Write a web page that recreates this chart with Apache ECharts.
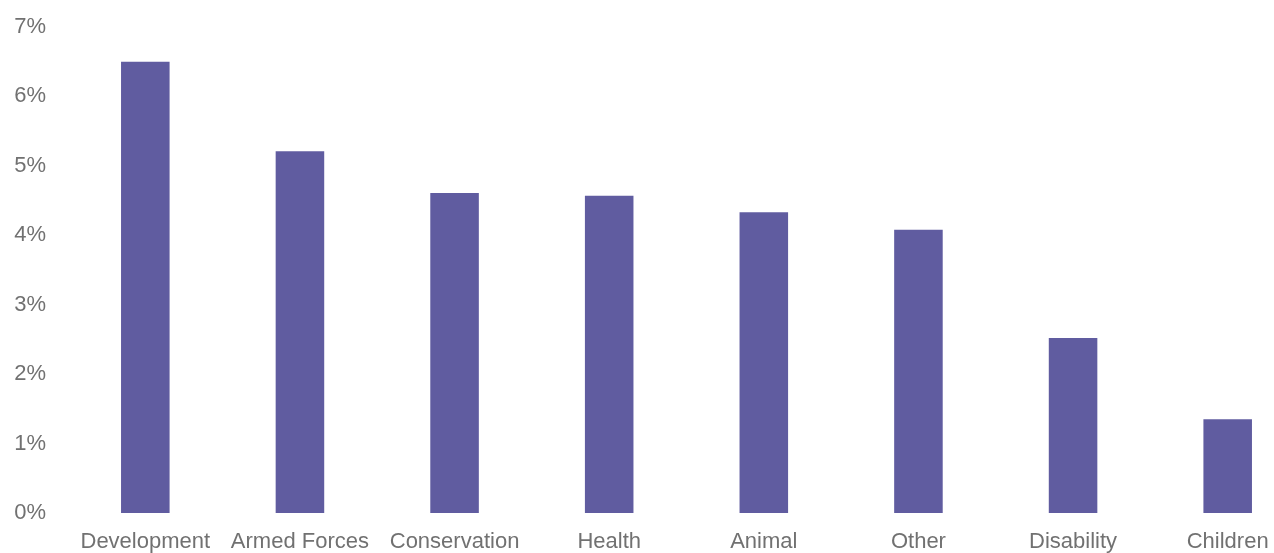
<!DOCTYPE html>
<html>
<head>
<meta charset="utf-8">
<script src="https://cdn.jsdelivr.net/npm/echarts@6/dist/echarts.min.js"></script>
<style>
  html, body { margin: 0; padding: 0; background: #ffffff; overflow: hidden; width: 1274px; height: 553px; }
  #chart { width: 1305px; height: 553px; }
</style>
</head>
<body>
<div id="chart"></div>
<script>
const categories = ['Development', 'Armed Forces', 'Conservation', 'Health', 'Animal', 'Other', 'Disability', 'Children'];
const values = [6.50, 5.21, 4.61, 4.57, 4.33, 4.08, 2.52, 1.35];
const yTicks = [0, 1, 2, 3, 4, 5, 6, 7];

const chart = echarts.init(document.getElementById('chart'), null, { renderer: 'canvas' });
chart.setOption({
  animation: false,
  backgroundColor: '#ffffff',
  textStyle: { fontFamily: 'Liberation Sans, Arial, sans-serif' },
  grid: { left: 68, right: 0, top: 27, bottom: 38, containLabel: false },
  xAxis: {
    type: 'category',
    data: categories,
    axisLine: { show: false },
    axisTick: { show: false },
    axisLabel: { color: '#717171', fontSize: 22, margin: 18, interval: 0, fontFamily: 'Liberation Sans, Arial, sans-serif' }
  },
  yAxis: {
    type: 'value',
    min: yTicks[0],
    max: yTicks[yTicks.length - 1],
    interval: 1,
    splitLine: { show: false },
    axisLine: { show: false },
    axisTick: { show: false },
    axisLabel: { color: '#717171', fontSize: 22, margin: 22, formatter: v => v + '%', fontFamily: 'Liberation Sans, Arial, sans-serif' }
  },
  series: [{
    type: 'bar',
    data: values,
    barWidth: '31.4%',
    itemStyle: { color: '#605CA0' }
  }]
});
</script>
</body>
</html>
